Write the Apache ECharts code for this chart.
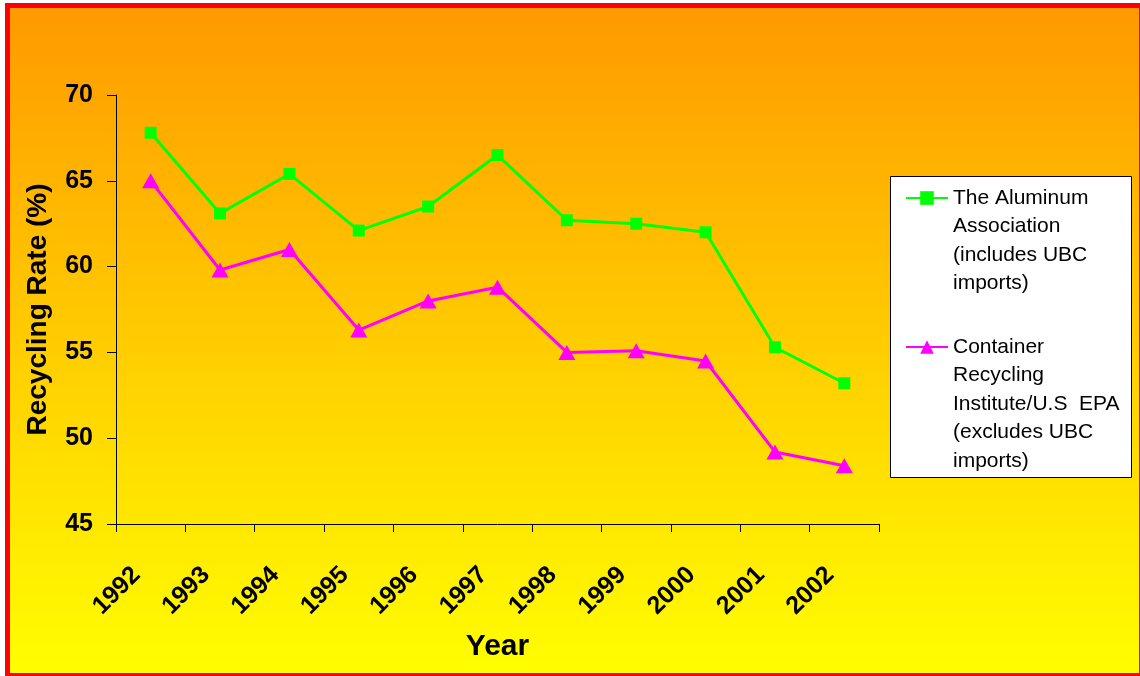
<!DOCTYPE html>
<html>
<head>
<meta charset="utf-8">
<style>
  html, body { margin: 0; padding: 0; background: #ffffff; }
  #chart { width: 1140px; height: 676px; }
</style>
<script src="https://cdn.jsdelivr.net/npm/echarts@6/dist/echarts.min.js"></script>
</head>
<body>
<div id="chart"></div>
<script>
// Aluminum can recycling rates, 1992-2002
var years = ['1992', '1993', '1994', '1995', '1996', '1997', '1998', '1999', '2000', '2001', '2002'];
var aluminumAssociation = [67.8, 63.1, 65.4, 62.1, 63.5, 66.5, 62.7, 62.5, 62.0, 55.3, 53.2];
var criEpa = [65.0, 59.8, 61.0, 56.3, 58.0, 58.8, 55.0, 55.1, 54.5, 49.2, 48.4];
var yTicks = { min: 45, max: 70, interval: 5 };

var nameAA = 'The Aluminum\nAssociation\n(includes UBC\nimports)';
var nameCRI = 'Container\nRecycling\nInstitute/U.S  EPA\n(excludes UBC\nimports)';

var FONT = 'Arial, "Liberation Sans", sans-serif';
var LINE_H = 28.5;

function lineCount(s) { return s.split('\n').length; }

var chart = echarts.init(document.getElementById('chart'), null, { renderer: 'canvas' });

// The legend text block is centred on its icon, so blank lines are put in front
// of the name to bring the icon level with the first line of text.
function legendFor(name, iconY) {
  var n = lineCount(name);
  var total = (2 * n - 1) * LINE_H;
  return {
    data: [name],
    left: 905,
    top: iconY - total / 2,
    orient: 'vertical',
    padding: 0,
    itemWidth: 42,
    itemHeight: 17,
    selectedMode: false,
    formatter: function (s) {
      return new Array(lineCount(s)).join('\n') + s;
    },
    textStyle: {
      fontFamily: FONT,
      fontSize: 21,
      color: '#000',
      lineHeight: LINE_H
    }
  };
}

chart.setOption({
  animation: false,
  backgroundColor: '#ffffff',
  graphic: [
    {
      type: 'rect',
      z: -10,
      silent: true,
      shape: { x: 7.5, y: 5.5, width: 1134, height: 670 },
      style: {
        fill: new echarts.graphic.LinearGradient(0, 0, 0, 1, [
          { offset: 0, color: '#ff9900' },
          { offset: 1, color: '#ffff00' }
        ]),
        stroke: '#ff0000',
        lineWidth: 5
      }
    },
    {
      type: 'rect',
      z: -5,
      silent: true,
      shape: { x: 890.5, y: 176.5, width: 241, height: 301 },
      style: { fill: '#ffffff', stroke: '#000000', lineWidth: 1 }
    }
  ],
  legend: [legendFor(nameAA, 198), legendFor(nameCRI, 347)],
  grid: { left: 116, right: 261, top: 95, bottom: 152, containLabel: false },
  xAxis: {
    type: 'category',
    data: years,
    boundaryGap: true,
    name: 'Year',
    nameLocation: 'middle',
    nameGap: 108,
    nameTextStyle: { fontFamily: FONT, fontSize: 30, fontWeight: 'bold', color: '#000' },
    axisLine: { lineStyle: { color: '#000', width: 1 } },
    axisTick: { show: true, inside: false, length: 8, alignWithLabel: false, lineStyle: { color: '#000' } },
    axisLabel: {
      rotate: 45,
      margin: 33,
      padding: [0, 20, 0, 0],
      fontFamily: FONT,
      fontSize: 25,
      fontWeight: 'bold',
      color: '#000'
    },
    splitLine: { show: false }
  },
  yAxis: {
    type: 'value',
    min: yTicks.min,
    max: yTicks.max,
    interval: yTicks.interval,
    name: 'Recycling Rate (%)',
    nameLocation: 'middle',
    nameGap: 64,
    nameTextStyle: { fontFamily: FONT, fontSize: 28, fontWeight: 'bold', color: '#000' },
    axisLine: { show: true, lineStyle: { color: '#000', width: 1 } },
    axisTick: { show: true, inside: false, length: 9, lineStyle: { color: '#000' } },
    axisLabel: { margin: 23, fontFamily: FONT, fontSize: 25, fontWeight: 'bold', color: '#000' },
    splitLine: { show: false }
  },
  series: [
    {
      name: nameAA,
      type: 'line',
      data: aluminumAssociation,
      symbol: 'rect',
      symbolSize: 12,
      lineStyle: { color: '#00ff00', width: 3 },
      itemStyle: { color: '#00ff00' }
    },
    {
      name: nameCRI,
      type: 'line',
      data: criEpa,
      symbol: 'triangle',
      symbolSize: [17, 15],
      lineStyle: { color: '#ff00ff', width: 3 },
      itemStyle: { color: '#ff00ff' }
    }
  ]
});
</script>
</body>
</html>
